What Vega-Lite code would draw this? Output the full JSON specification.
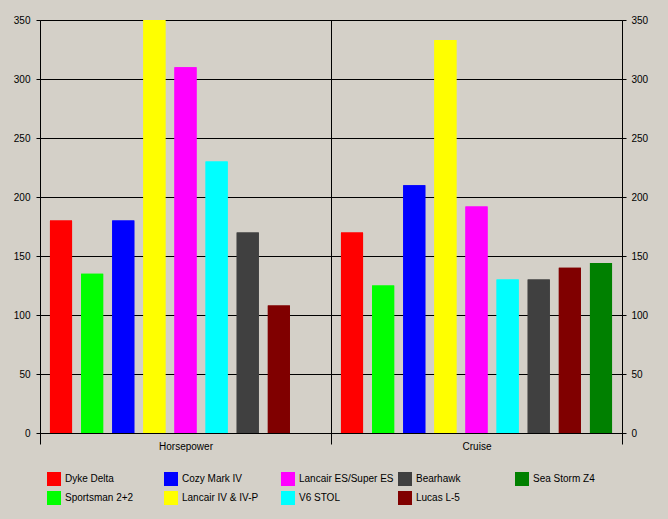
{
  "$schema": "https://vega.github.io/schema/vega-lite/v6.json",
  "autosize": {"type": "none"},
  "padding": {"left": 40, "top": 20, "right": 46, "bottom": 86},
  "width": 582,
  "height": 413,
  "background": "#d4d0c8",
  "config": {
    "view": {"stroke": null},
    "font": "Liberation Sans",
    "axis": {
      "labelFont": "Liberation Sans",
      "labelFontSize": 10,
      "labelColor": "black",
      "domainColor": "black",
      "tickColor": "black",
      "gridColor": "black",
      "gridOpacity": 1,
      "title": null
    }
  },
  "data": {
    "values": [
      {"metric": "Horsepower", "aircraft": "Dyke Delta", "value": 180},
      {"metric": "Horsepower", "aircraft": "Sportsman 2+2", "value": 135},
      {"metric": "Horsepower", "aircraft": "Cozy Mark IV", "value": 180},
      {"metric": "Horsepower", "aircraft": "Lancair IV & IV-P", "value": 350},
      {"metric": "Horsepower", "aircraft": "Lancair ES/Super ES", "value": 310},
      {"metric": "Horsepower", "aircraft": "V6 STOL", "value": 230},
      {"metric": "Horsepower", "aircraft": "Bearhawk", "value": 170},
      {"metric": "Horsepower", "aircraft": "Lucas L-5", "value": 108},
      {"metric": "Cruise", "aircraft": "Dyke Delta", "value": 170},
      {"metric": "Cruise", "aircraft": "Sportsman 2+2", "value": 125},
      {"metric": "Cruise", "aircraft": "Cozy Mark IV", "value": 210},
      {"metric": "Cruise", "aircraft": "Lancair IV & IV-P", "value": 333},
      {"metric": "Cruise", "aircraft": "Lancair ES/Super ES", "value": 192},
      {"metric": "Cruise", "aircraft": "V6 STOL", "value": 130},
      {"metric": "Cruise", "aircraft": "Bearhawk", "value": 130},
      {"metric": "Cruise", "aircraft": "Lucas L-5", "value": 140},
      {"metric": "Cruise", "aircraft": "Sea Storm Z4", "value": 144}
    ]
  },
  "encoding": {
    "x": {
      "field": "metric",
      "type": "nominal",
      "sort": ["Horsepower", "Cruise"],
      "scale": {"paddingInner": 0, "paddingOuter": 0},
      "axis": {
        "tickBand": "extent",
        "grid": true,
        "tickSize": 11,
        "labelAngle": 0,
        "labelPadding": -3
      }
    },
    "xOffset": {
      "field": "aircraft",
      "type": "nominal",
      "scale": {
        "domain": ["Dyke Delta", "Sportsman 2+2", "Cozy Mark IV", "Lancair IV & IV-P", "Lancair ES/Super ES", "V6 STOL", "Bearhawk", "Lucas L-5", "Sea Storm Z4"],
        "paddingInner": 0.29,
        "paddingOuter": 0.32
      }
    },
    "color": {
      "field": "aircraft",
      "type": "nominal",
      "scale": {
        "domain": ["Dyke Delta", "Sportsman 2+2", "Cozy Mark IV", "Lancair IV & IV-P", "Lancair ES/Super ES", "V6 STOL", "Bearhawk", "Lucas L-5", "Sea Storm Z4"],
        "range": ["#ff0000", "#00ff00", "#0000ff", "#ffff00", "#ff00ff", "#00ffff", "#404040", "#800000", "#008000"]
      },
      "legend": {
        "title": null,
        "orient": "none",
        "legendX": 7,
        "legendY": 452,
        "columns": 5,
        "gridAlign": "all",
        "columnPadding": 4,
        "rowPadding": 5,
        "padding": 0,
        "symbolType": "square",
        "symbolSize": 196,
        "symbolStrokeWidth": 0,
        "symbolOpacity": 1,
        "labelOffset": 4,
        "labelFont": "Liberation Sans",
        "labelFontSize": 10,
        "labelColor": "black",
        "labelLimit": 200
      }
    }
  },
  "layer": [
    {
      "mark": {"type": "bar"},
      "encoding": {
        "y": {
          "field": "value",
          "type": "quantitative",
          "scale": {"domain": [0, 350], "nice": false},
          "axis": {
            "orient": "left",
            "values": [0, 50, 100, 150, 200, 250, 300, 350],
            "grid": true,
            "tickSize": 4,
            "labelPadding": 6
          }
        }
      }
    },
    {
      "mark": {"type": "bar"},
      "encoding": {
        "y": {
          "field": "value",
          "type": "quantitative",
          "scale": {"domain": [0, 350], "nice": false},
          "axis": {
            "orient": "right",
            "values": [0, 50, 100, 150, 200, 250, 300, 350],
            "grid": false,
            "tickSize": 4,
            "labelPadding": 5
          }
        }
      }
    }
  ],
  "resolve": {"axis": {"y": "independent"}}
}
